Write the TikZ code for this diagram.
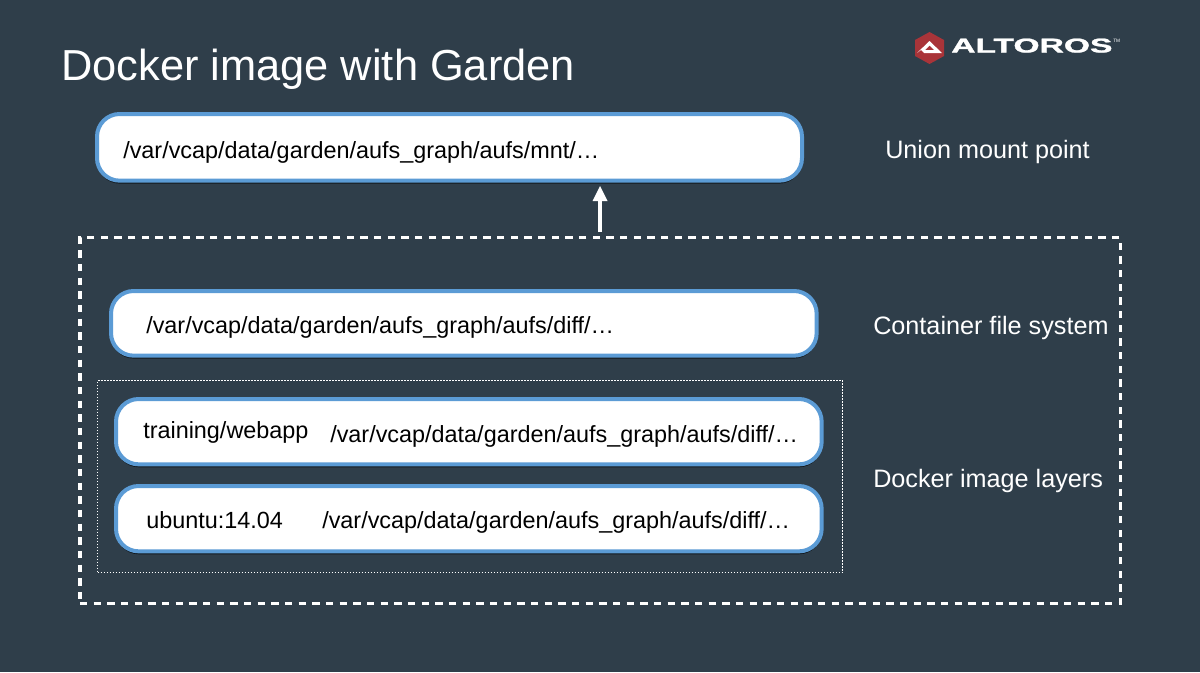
\documentclass[tikz,border=0pt]{standalone}
\usepackage{fontspec}
\setmainfont{Liberation Sans}
\newfontfamily\logofont[FakeBold=1.2]{Liberation Sans Bold}
\usetikzlibrary{shadows}
\definecolor{bgc}{HTML}{2F3E4A}
\definecolor{boxline}{HTML}{5B9BD5}
\definecolor{logored}{HTML}{A93439}
\tikzset{
  x=0.75pt,y=-0.75pt,
  pill/.style={draw=boxline,line width=3pt,fill=white,rounded corners=17pt,inner sep=0pt,
    drop shadow={shadow xshift=0pt,shadow yshift=-2.2pt,fill=black,opacity=.6}},
  boxtext/.style={anchor=base west,inner sep=0pt,text=black,font=\fontsize{17.55pt}{20pt}\selectfont},
  sidetext/.style={anchor=base west,inner sep=0pt,text=white,font=\fontsize{18.9pt}{22pt}\selectfont},
  outerdash/.style={draw=white,line width=2.4pt,dash pattern=on 5.5pt off 4.75pt,inner sep=0pt},
  innerdot/.style={draw=white,line width=1pt,dash pattern=on 1.1pt off 1.15pt,inner sep=0pt},
  uparrow/.style={draw=white,line width=3.4pt},
}
\begin{document}
\begin{tikzpicture}
\useasboundingbox[fill=bgc] (0,0) rectangle (1200,672);
% title
\node[anchor=base west,inner sep=0pt,text=white,font=\fontsize{32.55pt}{36pt}\selectfont] (title) at (61,80) {Docker image with Garden};
% logo
\fill[logored] (929.5,32) -- (944,40) -- (944,56) -- (929.5,64) -- (915,56) -- (915,40) -- cycle;
\fill[white,even odd rule] (929.5,41) -- (942,53) -- (924,53) -- (921,50) -- (917,53) -- cycle
  (929.5,45.5) -- (925,50) -- (934,50) -- cycle;
\node[anchor=base west,inner sep=0pt,text=white,font=\logofont\fontsize{15pt}{16pt}\selectfont] (logotext) at (951,52.5) {\scalebox{1.68}[1]{ALTOROS}};
\node[anchor=base west,inner sep=0pt,text=white,font=\fontsize{3.6pt}{4pt}\selectfont] (logotm) at (1113,42) {TM};
% frames
\node[outerdash,minimum width=780.4pt,minimum height=274.5pt,anchor=north west] (outer) at (78.4,235.7) {};
\node[innerdot,minimum width=558.75pt,minimum height=144pt,anchor=north west] (inner) at (96.9,379.9) {};
% boxes
\node[pill,minimum width=528.75pt,minimum height=50pt,anchor=north west] (union) at (95,112) {};
\node[pill,minimum width=529.25pt,minimum height=48.5pt,anchor=north west] (cfs) at (109,289) {};
\node[pill,minimum width=529.25pt,minimum height=49pt,anchor=north west] (webapp) at (114,397) {};
\node[pill,minimum width=529.25pt,minimum height=49pt,anchor=north west] (ubuntu) at (114,484) {};
% box texts
\node[boxtext] (t1) at (123,158.5) {/var/vcap/data/garden/aufs\_graph/aufs/mnt/…};
\node[boxtext] (t2) at (146,333) {/var/vcap/data/garden/aufs\_graph/aufs/diff/…};
\node[boxtext] (t3a) at (143,438) {training/webapp};
\node[boxtext] (t3b) at (330,442) {/var/vcap/data/garden/aufs\_graph/aufs/diff/…};
\node[boxtext] (t4a) at (146,528) {ubuntu:14.04};
\node[boxtext] (t4b) at (322,528) {/var/vcap/data/garden/aufs\_graph/aufs/diff/…};
% side labels
\node[sidetext] (s1) at (885,158) {Union mount point};
\node[sidetext] (s2) at (873,334) {Container file system};
\node[sidetext] (s3) at (873,487) {Docker image layers};
% arrow
\coordinate (arrowstart) at (600,232);
\coordinate (arrowend) at (600,186);
\draw[uparrow] (arrowstart) -- (600,198);
\fill[white] (arrowend) -- (607.5,201) -- (592.5,201) -- cycle;
\end{tikzpicture}
\end{document}
